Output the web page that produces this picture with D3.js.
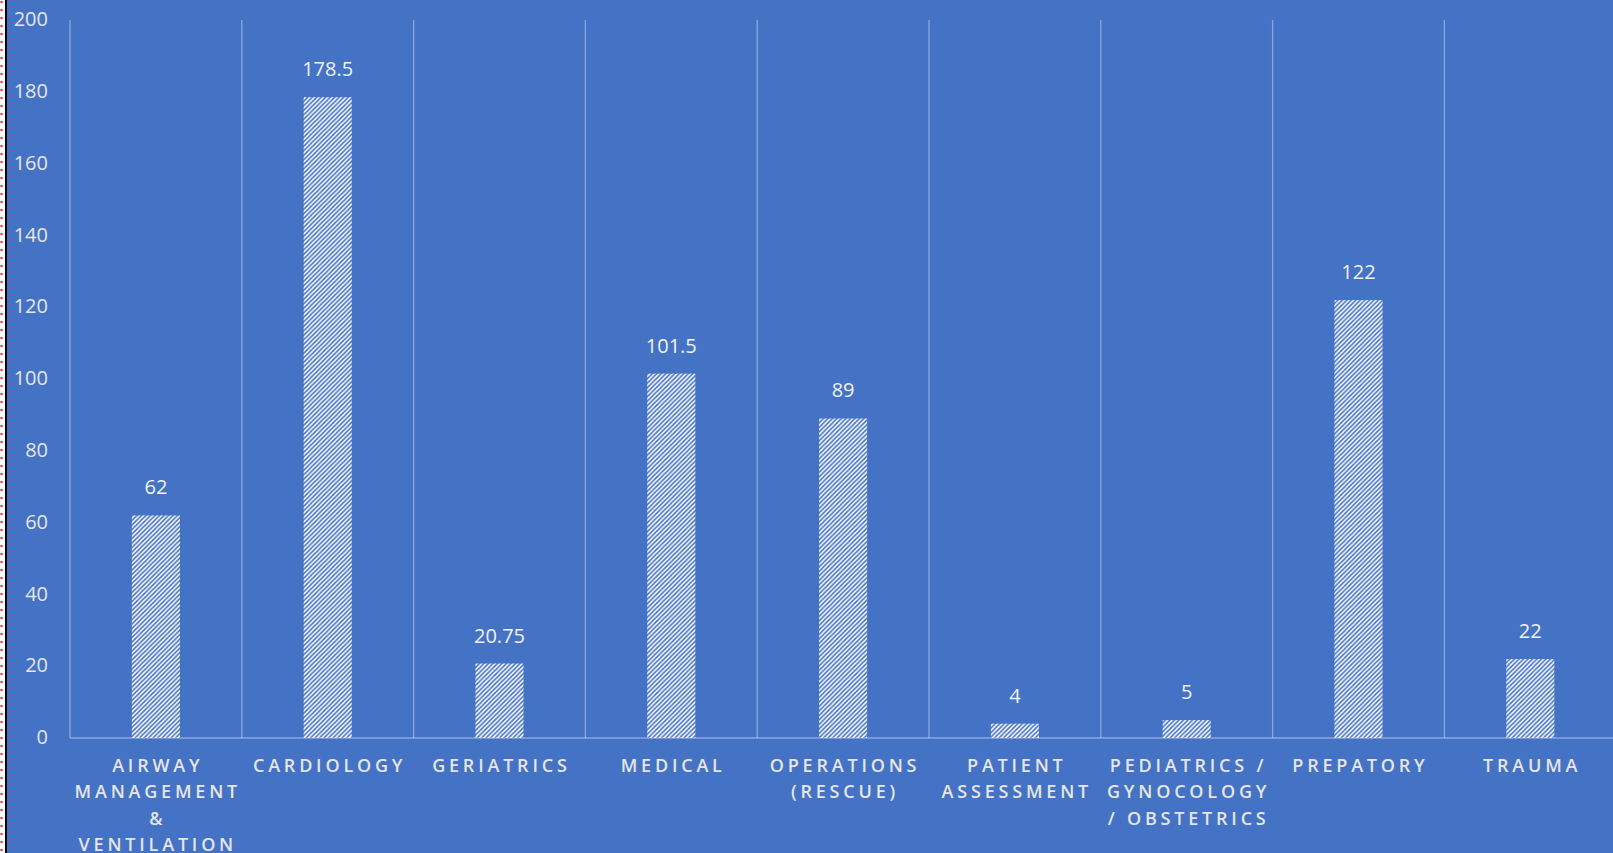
<!DOCTYPE html>
<html lang="en">
<head>
	<meta charset="UTF-8">
	<title>Hours by Category</title>
	<script src="https://cdn.jsdelivr.net/npm/d3@7"></script>
	<style>
		body { margin: 0; background: #fff; overflow: hidden; }
		text { font-family: "Open Sans", "Liberation Sans", sans-serif; }
	</style>
</head>
<body>
	<div id="vis"></div>

	<script>
		var width = 1613;
		var height = 853;

		// chart data
		var categories = [
			"AIRWAY\nMANAGEMENT\n&\nVENTILATION",
			"CARDIOLOGY",
			"GERIATRICS",
			"MEDICAL",
			"OPERATIONS\n(RESCUE)",
			"PATIENT\nASSESSMENT",
			"PEDIATRICS /\nGYNOCOLOGY\n/ OBSTETRICS",
			"PREPATORY",
			"TRAUMA"
		];
		var values = [62, 178.5, 20.75, 101.5, 89, 4, 5, 122, 22];
		var yTicks = [0, 20, 40, 60, 80, 100, 120, 140, 160, 180, 200];

		var blue = "#4472c4";
		var gridColor = "rgba(255,255,255,0.38)";

		var svg = d3.select("#vis").append("svg")
				.attr("width", width)
				.attr("height", height);

		// striped fill for the bars
		var defs = svg.append("defs");
		var pat = defs.append("pattern")
			.attr("id", "hatch")
			.attr("patternUnits", "userSpaceOnUse")
			.attr("width", 4.5)
			.attr("height", 4.5);
		pat.append("rect").attr("width", 4.5).attr("height", 4.5).attr("fill", "#fff");
		pat.append("path")
			.attr("d", "M-1,1 L1,-1 M0,4.5 L4.5,0 M3.5,5.5 L5.5,3.5")
			.attr("stroke", blue)
			.attr("stroke-width", 1.6);

		// the blue chart area, with the strip on the left
		svg.append("rect")
			.attr("x", 7).attr("y", 0)
			.attr("width", width - 7).attr("height", height)
			.attr("fill", blue);
		svg.append("line")
			.attr("x1", 6).attr("x2", 6).attr("y1", 0).attr("y2", height)
			.attr("stroke", "#000").attr("stroke-width", 2);
		svg.append("line")
			.attr("x1", 1.5).attr("x2", 1.5).attr("y1", 1).attr("y2", height)
			.attr("stroke", "#ff1a1a").attr("stroke-width", 2)
			.attr("stroke-dasharray", "2,6");

		var left = 70;
		var step = 171.8;
		var x = d3.scaleBand()
			.domain(categories)
			.range([left, left + step * categories.length])
			.paddingInner(0.72)
			.paddingOuter(0.36);

		var y = d3.scaleLinear()
			.domain([0, 200])
			.range([738, 20]);

		// vertical separators between categories
		var bounds = d3.range(categories.length + 1).map(function(i) { return left + i * x.step(); });
		svg.append("g").selectAll("line")
			.data(bounds)
			.join("line")
			.attr("x1", function(d) { return d; })
			.attr("x2", function(d) { return d; })
			.attr("y1", y(200))
			.attr("y2", y(0))
			.attr("stroke", gridColor)
			.attr("stroke-width", 1.3);

		// y axis labels
		var yAxis = d3.axisLeft(y).tickValues(yTicks).tickSize(0).tickPadding(0);
		var gy = svg.append("g")
			.attr("transform", "translate(48,0)")
			.call(yAxis);
		gy.select(".domain").remove();
		gy.selectAll("text")
			.attr("fill", "#e6e6e6")
			.attr("font-size", 20)
			.attr("font-family", "\"Open Sans\", sans-serif")
			.attr("dy", "0.28em");

		// bars
		svg.append("g").selectAll("rect")
			.data(values)
			.join("rect")
			.attr("x", function(d, i) { return x(categories[i]); })
			.attr("y", function(d) { return y(d); })
			.attr("width", x.bandwidth())
			.attr("height", function(d) { return y(0) - y(d); })
			.attr("fill", "url(#hatch)");

		// baseline
		svg.append("line")
			.attr("x1", left).attr("x2", width)
			.attr("y1", y(0)).attr("y2", y(0))
			.attr("stroke", gridColor)
			.attr("stroke-width", 1.5);

		// value labels
		svg.append("g").selectAll("text")
			.data(values)
			.join("text")
			.attr("x", function(d, i) { return x(categories[i]) + x.bandwidth() / 2; })
			.attr("y", function(d) { return y(d) - 21; })
			.attr("text-anchor", "middle")
			.attr("font-size", 20)
			.attr("fill", "#f2f2f2")
			.text(function(d) { return d; });

		// category labels, wrapped on \n
		var spacing = 3.8;
		var xl = svg.append("g").selectAll("text")
			.data(categories)
			.join("text")
			.attr("x", function(d) { return x(d) + x.bandwidth() / 2 + spacing / 2; })
			.attr("y", 772)
			.attr("text-anchor", "middle")
			.attr("font-size", 18)
			.attr("font-weight", 600)
			.attr("letter-spacing", spacing)
			.attr("fill", "#e6e6e6");
		xl.each(function(d) {
			var t = d3.select(this);
			d.split("\n").forEach(function(line, i) {
				t.append("tspan")
					.attr("x", t.attr("x"))
					.attr("dy", i === 0 ? 0 : 26.3)
					.text(line);
			});
		});
	</script>
</body>
</html>
